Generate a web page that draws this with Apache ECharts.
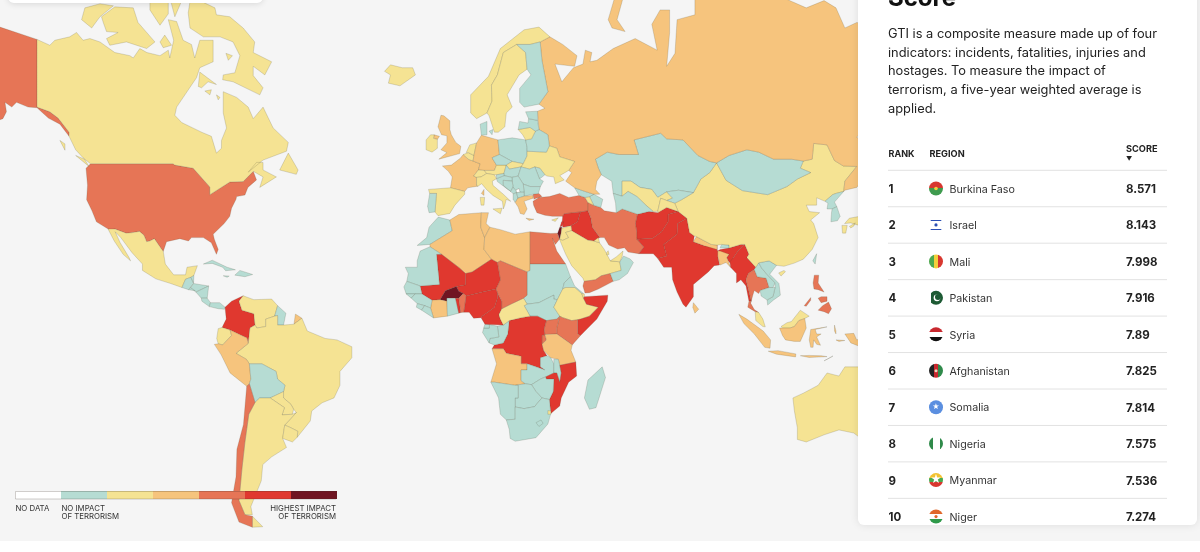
<!DOCTYPE html>
<html>
<head>
<meta charset="utf-8">
<style>
html, body { margin: 0; padding: 0; background: #fff; }
#container { width: 1200px; height: 552px; background: #f5f5f5; }
</style>
<script src="https://cdn.jsdelivr.net/npm/echarts@6/dist/echarts.min.js"></script>
</head>
<body>
<div id="container"></div>
<script>
// impact bands, one list per colour of the legend
var noData = ['Kosovo'];
var noImpact = ['Cuba','Hispaniola','Jamaica','Guatemala','Belize','Honduras','El Salvador','Nicaragua','Costa Rica','Panama','Guyana','Bolivia','Portugal',
  'Morocco','Mauritania','Senegal','Guinea-Bissau','Guinea','Sierra Leone','Liberia','Ghana','Sudan','South Sudan','Eritrea','Gabon','Eq. Guinea','Congo',
  'Zambia','Malawi','Zimbabwe','Botswana','Namibia','South Africa','Lesotho','Madagascar','Finland','Denmark','Poland','Czechia','Hungary','Estonia','Latvia',
  'Belarus','Moldova','Romania','Bulgaria','Serbia','Croatia','Bosnia','Slovenia','Montenegro','Albania','N. Macedonia','Georgia','Azerbaijan',
  'Kazakhstan','Turkmenistan','Kyrgyzstan','Mongolia','North Korea','South Korea','Taiwan','Oman','Bhutan','Laos','Vietnam','Cambodia'];
var lowImpact = ['Canada','Mexico','Venezuela','Ecuador','Paraguay','Uruguay','Argentina','Brazil','Iceland','Norway','Sweden','Ireland','Spain','Belgium',
  'Netherlands','Switzerland','Austria','Italy','Slovakia','Lithuania','Ukraine','Armenia','Uzbekistan','Tajikistan','China','Japan','Jordan','Saudi Arabia',
  'UAE','Qatar','Kuwait','Malaysia','Australia','Ethiopia','Djibouti','Central African Rep.','Eswatini','Cyprus'];
var mediumImpact = ['French Guiana','Peru','United Kingdom','France','Germany','Greece','Russia','Algeria','Tunisia','Libya','Cote d\'Ivoire','Tanzania','Angola',
  'Nepal','Bangladesh','Sri Lanka','Indonesia'];
var highImpact = ['United States','Chile','Turkey','Iran','Egypt','Yemen','Chad','Kenya','Uganda','Rwanda','Benin','Thailand','Philippines'];
var veryHighImpact = ['Colombia','Syria','Iraq','Lebanon','Afghanistan','Pakistan','India','Myanmar','Mali','Niger','Nigeria','Cameroon','Togo','Somalia','DR Congo','Mozambique'];
var highestImpact = ['Burkina Faso','Israel'];

var bandColors = ['#ffffff','#b6dcd3','#f5e393','#f6c47d','#e67556','#e0382f','#701522'];

// table on the right
var ranks = [1,2,3,4,5,6,7,8,9,10];
var regions = ['Burkina Faso','Israel','Mali','Pakistan','Syria','Afghanistan','Somalia','Nigeria','Myanmar','Niger'];
var scores = ['8.571','8.143','7.998','7.916','7.89','7.825','7.814','7.575','7.536','7.274'];
var description = ['GTI is a composite measure made up of four','indicators: incidents, fatalities, injuries and','hostages. To measure the impact of','terrorism, a five-year weighted average is','applied.'];

// rough country outlines, lon,lat pairs
var outlines = {
'United States':[[-124.5,48,-123,49,-95.2,49,-94.6,48.7,-88.4,48,-82.8,43.6,-82.8,41.7,-76.1,44.8,-71.6,44.9,-68.2,47.3,-67.1,45.3,-70,43.5,-71,41.6,-73.8,41.2,-74,40.5,-75.5,38.2,-76.1,36,-78,34,-81.7,31,-81.3,29.5,-80,26.5,-80.6,25,-82.3,28.5,-85,30,-89,30,-90,29,-92.9,29.7,-97.4,28.8,-98.5,25.9,-99,26.5,-101.5,29.7,-103,29,-104.1,28.8,-105,30.7,-106.5,31.8,-109.2,31.4,-111,31.3,-114.8,32.5,-116.5,32.2,-121,34.5,-122.5,37.5,-124.3,40.4,-124,44],
 [-141,69.6,-148,70.4,-153.5,71,-160,71.5,-166,68.5,-162,66.5,-168,65.6,-161,64.5,-165,62,-162,59,-157,58.7,-158,56.5,-164,54.7,-155,57.5,-152.5,58,-151.3,59.2,-151.8,60.8,-149.5,60,-147.9,60.8,-144,60,-141,59.9,-137.2,58.1,-133.3,57,-130.2,54.7,-130.2,55.5,-133.9,58.1,-136.7,59.2,-141,60]],
'Canada':[[-141,69.6,-136.7,68.9,-135,69.5,-130,69.9,-127.7,70.4,-125.5,69.5,-123.2,69.7,-119.8,69.3,-114.8,68,-109.7,67.6,-108.6,67.3,-106.4,68.5,-104,68,-99.6,67.6,-96.8,68.3,-96.3,67.3,-95,69.5,-96.8,71.8,-94,71.6,-91.8,69.5,-89,69,-87.9,67.3,-86.2,69.5,-81.7,69.5,-81.7,66.8,-86.2,66,-87.3,64.6,-94,60,-94.6,58.6,-92.3,57.3,-85.6,55.5,-82.3,54.7,-80.6,51.3,-78.9,52.3,-78.9,53.9,-77.2,56.3,-78.3,59,-78.3,62.5,-73.8,61.6,-69.9,60,-68.2,58,-64.9,60,-61.5,56.3,-56.4,53.5,-57,51.7,-64.9,49.8,-69.9,47.1,-67.1,49.3,-64.9,49.3,-64.9,47.6,-60.4,46,-66,43.5,-64.9,46,-68.2,47.3,-71.6,44.9,-76.1,44.8,-82.8,41.7,-82.8,43.6,-88.4,48,-94.6,48.7,-95.2,49,-123,49,-125.5,50.3,-128,52,-130.2,54.7,-130.2,55.5,-133.9,58.1,-136.7,59.2,-141,60],
 [-90.1,72.5,-89.5,70.9,-85,69.9,-79.4,69.9,-75,69.3,-72.7,67.6,-74.4,65.3,-78.3,65,-78.5,64.3,-75,64,-66,62,-64.9,63.1,-68.2,64.9,-68.2,66.2,-64.3,65,-62,66.8,-68.2,68,-67.7,69.3,-71.6,70.9,-76.1,72.1,-80.6,72.3,-81.1,73,-86.2,73.7,-89,74.5],
 [-119.3,72.1,-114.8,73.1,-108.6,73,-107,71.5,-101.3,69.3,-104.1,68.5,-110.9,69.3,-116.5,68.9,-117.6,69.7,-113.7,70.4,-117.6,70.5,-118.7,71.5],
 [-126,71.8,-124.9,73,-119.8,73.4,-115.3,73.2,-119.8,72.1,-122.6,70.9],
 [-103,72.8,-99.6,71.2,-96.8,72.4,-96.8,74,-103,74],[-96.3,74,-91.8,74,-94.6,72.1],[-99.6,69.3,-98,70.1,-95.7,68.9,-98.5,68.6],
 [-86.7,63.3,-86.2,65.4,-80.6,63.6,-83.4,64,-85.6,63.1],[-84.5,62.6,-82.3,62.8,-82.8,62],[-80.6,62,-79.4,61.6,-80,61.2],[-77.4,67.9,-75.2,67.6,-76.6,67],
 [-133.3,53.9,-131.6,53.2,-131.6,51.9],[-123.5,48.4,-128,50.8,-125,50],[-56.4,51.3,-53.1,47.6,-53.7,46.6,-59.3,47.6]],
'Mexico':[[-117.1,32.5,-114.8,32.5,-111,31.3,-109.2,31.4,-106.5,31.8,-105,30.7,-104.1,28.8,-103,29,-101.5,29.7,-99,26.5,-98.5,25.9,-97.8,22,-95,18.6,-91,18.6,-90.5,21,-87,21.5,-88.2,18.4,-89.2,17.8,-91,17.2,-92.2,14.5,-96,15.8,-101,17.3,-105.5,20,-105.5,22,-109,25.5,-112.8,30,-114.7,31.7,-113,28.5,-110,24,-109.5,23,-112,25,-115,29]],
'Guatemala':[[-92.2,14.5,-91,17.2,-89.2,17.8,-88.3,15.8,-90,13.8]],
'Belize':[[-89.2,17.8,-88.2,18.4,-88.3,16]],
'Honduras':[[-88.3,15.8,-83.2,15,-87.5,13,-89.3,14.4]],
'El Salvador':[[-90,13.8,-89.3,14.4,-87.7,13.4]],
'Nicaragua':[[-87.5,13,-83.2,15,-83.7,11,-85.7,11]],
'Costa Rica':[[-85.7,11,-83.7,11,-82.6,9.5,-83,8.2,-85.5,10]],
'Panama':[[-83,8.2,-82.6,9.5,-79.5,9.5,-77.7,8,-77.9,7.3,-80,7.5]],
'Cuba':[[-85,22,-82,23.2,-77,21,-74.2,20.2,-77.5,19.9,-78.5,21,-82,22.2]],
'Hispaniola':[[-74.4,18.5,-72.7,20,-68.4,18.7,-71,18]],
'Jamaica':[[-78.3,18.3,-76.3,18.2,-77,17.8]],
'Colombia':[[-77.7,8,-75.5,10,-71.6,11.8,-73,10,-72,7,-68,5.8,-67.6,2,-69.3,1,-69.9,-4.2,-70.3,-2.4,-76,0.3,-78.7,1.2,-77.3,4]],
'Venezuela':[[-71.6,11.8,-68,10.5,-62,10.7,-60,8.5,-61,5,-64,4,-64,1.5,-67,1,-67.6,2,-68,5.8,-72,7,-73,10]],
'Guyana':[[-60,8.5,-57.2,6,-58,2,-60,2,-60,5.2,-61,5]],
'French Guiana':[[-54.5,2.3,-54,5.7,-51.8,4.3]],
'Brazil':[[-60,5.2,-60,2,-58,2,-54.5,2.3,-51.8,4.3,-50,0,-44,-2.5,-40,-3,-35,-5.3,-35,-9,-39,-13.5,-39,-18,-41,-22,-45,-23.5,-48.5,-26,-49,-29,-53.4,-33.7,-53.2,-32,-55.5,-31,-57.6,-30.2,-53.7,-26.5,-54.6,-25.5,-55.5,-24,-58,-22,-58,-20,-57.5,-18,-60,-16,-60.5,-13.5,-65.3,-11,-69.5,-11,-70.5,-9.5,-74,-7.5,-69.9,-4.2,-69.3,1,-67.6,2,-67,1,-64,1.5,-64,4,-61,5]],
'Ecuador':[[-80.5,-2.5,-80,0.8,-78.7,1.2,-76,0.3,-75.5,-1.5,-78.5,-4.7,-80,-4.3]],
'Peru':[[-81.3,-4.5,-80,-4.3,-78.5,-4.7,-75.5,-1.5,-76,0.3,-70.3,-2.4,-69.9,-4.2,-74,-7.5,-70.5,-9.5,-69.5,-11,-69,-16,-69.5,-17.5,-70.4,-18.3,-76,-14,-79,-8]],
'Bolivia':[[-69.5,-11,-65.3,-11,-60.5,-13.5,-60,-16,-57.5,-18,-58,-20,-62.5,-22,-66,-22,-67.6,-23.4,-69.5,-17.5,-69,-16]],
'Paraguay':[[-58,-20,-58,-22,-55.5,-24,-54.6,-25.5,-55,-27,-58.5,-27.2,-57.7,-25,-62.5,-22]],
'Argentina':[[-66,-22,-62.5,-22,-57.7,-25,-58.5,-27.2,-55,-27,-53.7,-26.5,-57.6,-30.2,-58.3,-34,-57,-36.5,-62,-39,-65,-41,-65.5,-45,-69,-50.8,-68.5,-52.5,-71,-52.5,-73,-49.5,-72,-42,-71,-35,-69.7,-27,-67.6,-23.4],[-68.5,-52.8,-65,-54.9,-68.5,-55]],
'Chile':[[-70.4,-18.3,-71.5,-30,-73.7,-37,-74,-44,-75.5,-50,-73,-54,-68.5,-55,-68.5,-52.8,-71,-52.5,-73,-49.5,-72,-42,-71,-35,-69.7,-27,-67.6,-23.4,-69.5,-17.5]],
'Uruguay':[[-57.6,-30.2,-55.5,-31,-53.2,-32,-53.4,-33.7,-55,-35,-58.3,-34]],
'Morocco':[[-5.9,35.8,-2,35,-1.2,32,-5,30,-8.7,28,-13,27.7,-9.8,30,-9,33]],
'Algeria':[[-2,35,1,36.5,8.6,37,8.4,33,9.7,30,9.5,26.5,12,23.5,5.5,19.5,3.3,19,1.2,20.8,-4.8,25,-8.7,27.3,-8.7,28,-5,30,-1.2,32]],
'Tunisia':[[8.6,37,11,37,10.2,34,11.5,33,9.7,30,8.4,33]],
'Libya':[[11.5,33,15,32.3,20,31,25,31.7,25,20,24,19.5,15,23,14,22.5,12,23.5,9.5,26.5,9.7,30]],
'Egypt':[[25,31.7,32,31.2,34.2,31.3,34.9,29.5,33.5,28,32.5,29.9,34,26,37,22,25,22]],
'Sudan':[[25,22,37,22,38.6,18,36.5,16,36,14,34.2,10.5,33,10.7,33,12,28,9.5,24,9,22.8,11,24,12,24,19.5,25,20]],
'South Sudan':[[24,9,28,9.5,33,12,33,10.7,34.2,10.5,33,8,35,5,34,4,30.5,3.5,27.5,5,25,5,23,8.5]],
'Eritrea':[[38.6,18,40,15,43,12.5,42.4,12.5,40,14.5,37,14.5,36,14,36.5,16]],
'Ethiopia':[[36,14,37,14.5,40,14.5,42.4,12.5,43,11,44,9,48,8,45,5,42,4,41,3.8,39,3.5,36,4.5,35,5,33,8,34.2,10.5]],
'Djibouti':[[42.4,12.5,43.3,12.4,43.3,11.5,43,11]],
'Somalia':[[43.3,11.5,51.2,12,51,10,47.5,4,42,-1.5,41,-1,41,3.8,42,4,45,5,48,8,44,9,43,11]],
'Kenya':[[35,5,36,4.5,39,3.5,41,3.8,41,-1,42,-1.5,39.2,-4.7,34,-1,34,1]],
'Uganda':[[30.5,3.5,34,4,35,5,34,1,34,-1,30,-1.2,29.7,0.5]],
'Rwanda':[[30,-1.2,30.5,-3,29,-4.5,29,-1.5]],
'Tanzania':[[30,-1.2,34,-1,39.2,-4.7,38.8,-6.5,40.4,-10.4,35,-11.5,34.5,-9.5,32,-9,29.5,-6.5,29,-4.5,30.5,-3]],
'DR Congo':[[12.2,-6,13,-4.7,16,-4,17.5,-1,18,3.5,22,4.5,25,5,27.5,5,30.5,3.5,29.7,0.5,30,-1.2,29,-1.5,29,-4.5,29.5,-6.5,30.7,-8.3,28.5,-9,28.5,-12,30,-13,27,-12,24,-11,22,-11,22,-8.5,17,-7.5,16,-6]],
'Congo':[[11.2,-4,13,-4.7,16,-4,17.5,-1,18,3.5,16,2,14,1.6,14.5,-2,11.5,-2.5]],
'Gabon':[[9,-0.5,9.4,1,11.3,1,11.3,2.2,14,1.6,14.5,-2,11.5,-2.5,11.2,-4]],
'Eq. Guinea':[[9.4,1,9.8,2.3,11.3,2.2,11.3,1]],
'Cameroon':[[8.5,4.5,9.8,2.3,11.3,2.2,16,2,15,4,14.5,5.5,15.5,7.5,15.5,10,14,12.8,14,11,13,8,11,6.5,8.8,5]],
'Central African Rep.':[[14.5,5.5,15,4,16,2,18,3.5,22,4.5,25,5,23,8.5,24,9,22.8,11,18.5,9,15.5,7.5]],
'Chad':[[14,12.8,15.5,10,15.5,7.5,18.5,9,22.8,11,24,12,24,19.5,15,23,14,22.5,15,17,13.5,14]],
'Niger':[[3.3,19,5.5,19.5,12,23.5,14,22.5,15,17,13.5,14,9,13,3.5,11.7,2.5,12.5,1,13.3,0.2,14.8,3.3,15.4]],
'Mali':[[-12,15,-5.5,15.5,-6.5,25,-4.8,25,1.2,20.8,3.3,19,3.3,15.4,0.2,14.8,-3.5,13.4,-5.3,10.5,-8,10.3,-11.4,12.4]],
'Burkina Faso':[[-5.3,10.5,-3.5,13.4,0.2,14.8,1,13.3,2.5,12.5,1,11,-0.1,11,-3,11,-3,10]],
'Cote d\'Ivoire':[[-8.5,7.7,-8,10.3,-5.3,10.5,-3,10,-3,11,-2.8,5,-7.5,4.4]],
'Ghana':[[-3,11,-0.1,11,1,6,-2.8,5]],
'Togo':[[-0.1,11,1,11,1.7,6.2,1,6]],
'Benin':[[1,11,2.5,12.5,3.5,11.7,2.7,6.3,1.7,6.2]],
'Nigeria':[[2.7,6.3,3.5,11.7,9,13,13.5,14,14,12.8,14,11,13,8,11,6.5,8.8,5,8.5,4.5,6,4.3,4.5,6.3]],
'Mauritania':[[-17,21,-13,21,-13,23,-12,26,-8.7,27.3,-4.8,25,-6.5,25,-5.5,15.5,-12,15,-16.5,16.5,-16,19]],
'Senegal':[[-17.5,14.7,-16.5,16.5,-12,15,-11.4,12.4,-16.7,12.4]],
'Guinea-Bissau':[[-16.7,12.4,-13.7,12.4,-15,11]],
'Guinea':[[-13.7,12.4,-11.4,12.4,-8,10.3,-8.5,7.7,-10.5,8.5,-13,9.2,-15,11]],
'Sierra Leone':[[-13,9.2,-10.5,8.5,-11.5,7,-13.3,8]],
'Liberia':[[-11.5,7,-10.5,8.5,-8.5,7.7,-7.5,4.4]],
'Angola':[[12.2,-6,16,-6,17,-7.5,22,-8.5,22,-11,24,-11,24,-13,22,-13,22,-16.5,23.4,-17.5,20,-18,13,-17,11.8,-17,13.7,-11]],
'Zambia':[[22,-13,24,-13,24,-11,27,-12,30,-13,28.5,-12,28.5,-9,30.7,-8.3,32,-9,33,-11,33,-14,30.2,-15.3,28.5,-16,25.5,-17.8,23.4,-17.5,22,-16.5]],
'Malawi':[[33,-9.5,34.5,-9.5,35,-11.5,35.5,-14,35,-17,34,-14,33,-14,33,-11]],
'Mozambique':[[40.4,-10.4,35,-11.5,35.5,-14,35,-17,34,-14,33,-14,30.2,-15.3,30.5,-16,33,-16,32.8,-20,31.5,-22.5,32,-26.8,35,-24.5,35.5,-22,38,-17,40.7,-15]],
'Zimbabwe':[[25.5,-17.8,28.5,-16,30.2,-15.3,30.5,-16,33,-16,32.8,-20,31.5,-22.5,29,-22,27,-20]],
'Botswana':[[20,-18,23.4,-17.5,25.5,-17.8,27,-20,29,-22,26.5,-24.7,23,-25.3,20,-24.8,20,-22,21,-22,21,-18]],
'Namibia':[[11.8,-17,13,-17,20,-18,21,-18,21,-22,20,-22,20,-28.5,17,-28.7,15,-27,14.4,-22]],
'South Africa':[[17,-28.7,20,-28.5,20,-24.8,23,-25.3,26.5,-24.7,29,-22,31.5,-22.5,32,-26.8,31,-29.9,27,-33.8,20,-34.8,18.3,-34,18,-31.5]],
'Lesotho':[[27,-29.5,28.7,-28.7,29.4,-29.7,28,-30.6]],
'Eswatini':[[31,-25.9,32,-26,32,-27,31,-27]],
'Madagascar':[[49.3,-12,50.4,-15.5,47.2,-25,45,-25.5,43.3,-22,44.5,-16.3]],
'Turkey':[[26,40,28,41,31.5,41.2,35,42,38,41,41.5,41.5,43.5,41,44.5,39.7,44.5,37.5,42,37.2,36.5,36.7,36,36,32.5,36,30,36.3,27.3,37,26.2,39],[26.3,40.5,26,41.8,28,42,29,41.2,27,40.8]],
'Syria':[[36,36,36.5,36.7,42,37.2,41,34.5,38.8,33.4,36,33,35.8,34.6]],
'Iraq':[[42,37.2,44.5,37.5,45.5,35.5,46,33,48.5,30,46.5,29,44.5,29.2,39,32,38.8,33.4,41,34.5]],
'Lebanon':[[35.1,33.1,35.6,34.5,36.4,34.5,35.8,33.3]],
'Israel':[[34.3,31.3,35,33,35.7,33,35.5,31.5,35,29.5]],
'Jordan':[[35,29.5,35.5,31.5,35.7,32.7,38.8,33.4,39,32,37,31.5,38,30,36,29.2]],
'Saudi Arabia':[[34.9,29.5,36,29.2,38,30,37,31.5,39,32,44.5,29.2,46.5,29,48.4,28.5,50,26.5,51,24.8,52,23,55.2,22.7,55.7,20,52,19,49,18.3,47,17,43.2,16.5,42.8,17.5,39,21.5,37,25]],
'Yemen':[[43.2,16.5,47,17,49,18.3,52,19,53,16.5,48,14,45,12.8,43.5,12.7,42.8,15]],
'Oman':[[52,19,55.7,20,55.2,22.7,56.5,24.5,58.7,23.6,59.8,22.5,57.8,19,55,17,53,16.5]],
'UAE':[[52,23,55.2,22.7,56,24.3,56.3,26,54,24.2]],
'Qatar':[[50.8,24.8,51.6,25,51.3,26.1,50.8,25.6]],
'Kuwait':[[46.5,29,48.4,28.5,48,30]],
'Iran':[[44.5,39.7,44.5,37.5,45.5,35.5,46,33,48.5,30,50,30,51.5,27.8,54.5,26.6,56.8,27,58,25.7,61.6,25.2,63.3,27.2,61,29.5,61,31.5,60.5,34,61.2,36.6,56,38,54,37,50,37.5,48.8,38.4,46.4,39]],
'Azerbaijan':[[46.4,39,45,41.2,46.5,41.8,49.5,40.5,48.8,38.4]],
'Armenia':[[43.5,41,45,41.2,46.4,39,44.5,39.7]],
'Georgia':[[40,43.4,43.5,42.5,46.5,41.8,45,41.2,43.5,41,41.5,41.5]],
'Afghanistan':[[61,29.5,66.3,29.8,69.3,31.7,71.5,34.5,71.5,36.5,74.9,37.3,71,38.4,68,37,65,37.3,61.2,36.6,60.5,34,61,31.5]],
'Pakistan':[[61.6,25.2,66.5,25.2,68,23.7,71,24.5,70,28,74.5,31,74.7,34,77.8,35.5,74.9,37.3,71.5,36.5,71.5,34.5,69.3,31.7,66.3,29.8,61,29.5,63.3,27.2]],
'India':[[68,23.7,70,21,72.7,21,73,17,74.5,13,76.5,9,77.5,8,80,11.5,80,15.5,85,19.5,87,21.5,88.8,21.7,88.2,24.5,89.8,25,92,25,91.2,24,91.7,23,92.5,22.2,93.5,24,95,26,97.3,28,96,28,92,26.9,89,26.5,88.2,26,88,26.5,88,27.8,84,27.5,80,28.8,80.3,30.5,78.7,31.5,77.8,35.5,74.7,34,74.5,31,70,28,71,24.5]],
'Nepal':[[80,28.8,84,27.5,88,26.5,88,27.8,86,28,81,30.3]],
'Bhutan':[[89,27,92,26.9,92,27.8,89.5,28]],
'Bangladesh':[[88.2,26,89,26,92,25,91.2,24,91.7,23,92.5,21,91,22.5,89,21.7,88.8,21.7,88.2,24.5]],
'Sri Lanka':[[80,9.5,81.8,7.3,80.5,6,79.8,8]],
'Myanmar':[[92.5,21,92.3,22.7,93.5,24,95,26,97.3,28,98.7,25,98,24,100,22,101,21,100.5,20.3,98.5,19,97.7,17,98.5,14,99.5,10,98.7,10,97.7,15,96,17,94.5,16,94.5,19]],
'Thailand':[[100.5,20.3,101.5,18,104.5,17.5,105.5,14.5,102.5,13.5,102,12.5,100.5,13.5,100,12,99.3,9.3,100.5,7.2,102,6.2,100.8,6.5,98.3,8,98.7,10,99.5,10,98.5,14,97.7,17,98.5,19]],
'Laos':[[100.5,20.3,101,21,102,22.4,103,20.7,105,18.5,107.5,16,106.8,14.5,105.5,14.5,104.5,17.5,101.5,18]],
'Vietnam':[[102,22.4,105.5,23,108,21.6,105.7,18.8,108.8,15.8,109.3,12,107,10.4,105,8.7,104.8,10.4,106.8,11.5,107.5,14.5,107.5,16,105,18.5,103,20.7]],
'Cambodia':[[102.5,13.5,105.5,14.5,106.8,14.5,107.5,14.5,106.8,11.5,104.8,10.4,102.8,11.7]],
'Malaysia':[[100.8,6.5,102,6.2,103.4,4,104.2,1.4,103.4,1.5,101,3.5],[109.5,1.5,111.5,2.8,113,3.2,116,7,119,5,117.5,4.2,115.5,3.5,114,1.5,112.5,1,110,1]],
'Indonesia':[[109,1,110,1,112.5,1,114,1.5,115.5,3.5,117.5,4.2,118,1,116,-3.5,114,-3.5,111,-3,110,-1.5],[95.3,5.6,98,4,103.5,0,106,-3,105.8,-5.8,104,-5.5,100.5,-1,97,2.5],[105.2,-6.8,108.5,-6.6,114.5,-7.7,114.4,-8.7,108,-7.8],
 [119.5,0.5,125,1.4,121,0.5,121.5,-1,123,-1,121.5,-2,122.8,-4.8,121.5,-4.5,120.5,-3,120.3,-5.5,119.5,-5.5,119,-3],[116,-8.3,119,-8.2,123,-8.3,125,-8.6,119,-8.9],[124,-10,127,-8.4,125,-9.5],[127.5,2,128,0,128,-1,127.5,0],[128,-3,131,-3.2,129,-3.5],[131,-1,134,-0.8,135,-3,138,-1.7,141,-2.6,141,-9,138,-8,138,-6,133,-4,132,-2.5]],
'Philippines':[[120.3,16,120.7,18.5,122.2,18.5,122,16,124,13,122,13.8,120.6,14],[122,7,123.5,8.5,125.5,9.7,126.5,7.5,125.5,5.8,124,6.5],[122,11,123,11.5,125,11.5,125,10,123,9.5],[117.3,8.5,119.5,11.2,119.5,10.3,118,8.3]],
'Taiwan':[[120.2,23,121.5,25.2,121,22]],
'China':[[74.9,37.3,77.8,35.5,78.7,31.5,80.3,30.5,81,30.3,86,28,88,27.8,89.5,28,92,27.8,92,26.9,96,28,97.3,28,98.7,25,98,24,100,22,101,21,102,22.4,105.5,23,108,21.6,110.5,21.3,114,22.3,117,23.5,120,26.5,122,30,120.5,34,119.5,35,122.5,37,119,37.3,118,39,121.5,39,121.5,40.9,124.3,40,126.9,41.7,128,42,130.6,42.5,131,45,135,48.4,130.5,48.5,127.5,49.7,125,53,120.5,53.3,120,50,117,49.6,116,48,119.5,47,115,45.5,111.5,43.7,105,41.7,96.5,42.7,91,45.2,87.8,49.2,85.5,47,82.5,45.5,80,42.2,76,40.4,73.7,39.5],[108.7,19.2,110.5,20,111,19.6,109.5,18.2]],
'Mongolia':[[87.8,49.2,91,45.2,96.5,42.7,105,41.7,111.5,43.7,115,45.5,119.5,47,116,48,117,49.6,113,50,107,50,102,51.5,98,52,92,50.8]],
'North Korea':[[124.3,40,126.9,41.7,128,42,130.6,42.5,127.5,39.8,128.3,38.6,126.7,38,125,38,125.3,39.5]],
'South Korea':[[126.7,38,128.3,38.6,129.4,36,128.5,34.8,126.3,34.5,126.5,37]],
'Japan':[[130.9,34,132.5,35.5,136,36,139,38,140,41,141.5,41,142,39.5,140.8,36,139,35,136.8,34.6,135.7,33.5,133,34.2],[130,33.5,131.8,33.5,131.3,31.3,130.2,31.3],[132.5,33.2,134.5,34.2,134,33.3,133,32.8]],
'Kazakhstan':[[47,50,51,51.5,55,51,61.5,51,60,54,69,55.3,71,54.2,76.5,54,81.5,50.8,85.5,49.5,87.8,49.2,85.5,47,82.5,45.5,80,42.2,75,42.8,71,42.4,68,41,66,43,62,43.5,59,45,56,45,56,41.3,53,42,52.5,45,49,46.5,48,48]],
'Uzbekistan':[[56,45,59,45,62,43.5,66,43,68,41,71,42.4,73,40.8,71,40.2,69,40.8,68,37.4,66.5,37.3,64,39,61,41.2,58,42.5,56,41.3]],
'Turkmenistan':[[53,42,56,41.3,58,42.5,61,41.2,64,39,66.5,37.3,65,37.3,61.2,36.6,56,38,54,37,53.8,39.5]],
'Kyrgyzstan':[[71,42.4,75,42.8,80,42.2,76,40.4,73.7,39.5,71,40.2,73,40.8]],
'Tajikistan':[[68,37.4,69,40.8,71,40.2,73.7,39.5,74.9,37.3,71,38.4,68,37]],
'Russia':[[28.4,69.3,31.7,69.9,36,69,40.8,67.6,40,66.2,33.4,66.5,35.7,64,39.6,66,42.8,66.5,43.6,68.3,45.8,68,45.2,66.8,47.5,67,53,68.5,60.4,69.7,67.8,68.3,66,71.3,68.8,72.8,72,72.8,72,70.4,71,66.2,73.8,67.9,74.5,71.8,80.5,72.3,80.5,74,90,76,104,78,110,74,118,73,124,73.7,128,73,131,70.9,135,71.5,160,70,180,69,180,65,177,62.5,170,60,163,58,162,55,157,51,156,57,163,62,155,59,142,59,135,54.5,141,53,140,48,135,43.5,131,42.8,130.6,42.5,131,45,135,48.4,130.5,48.5,127.5,49.7,125,53,120.5,53.3,120,50,117,49.6,113,50,107,50,102,51.5,98,52,92,50.8,87.8,49.2,85.5,49.5,81.5,50.8,76.5,54,71,54.2,69,55.3,60,54,61.5,51,55,51,51,51.5,47,50,48,48,49,46.5,47.5,45,47,43,48.5,41.8,46.5,41.8,43.5,42.5,40,43.4,37,45,39,47,38,47.5,40,49.5,35,50.5,34,52.3,31.5,52.8,31,55,28,56,27.5,59.3,30,59.8,28,60.5,31,62.5,29,67],[54.6,75,51.3,71.8,52.6,70.9,57,70.5,54.3,71.8,57.4,75]],
'Norway':[[5,62,5,59,7,58,10.5,59,12.2,61,12,63.5,14,65,16,68,20.5,69,25,69,28.4,69.3,31.7,69.9,28,71,23,70.7,15,68.5,11,64.8]],
'Sweden':[[10.5,59,11.2,58.5,13,55.5,14.3,55.5,16.5,56.5,17,59,19,60,17.3,62,21.3,65,24,65.8,23.5,68,20.5,69,16,68,14,65,12,63.5,12.2,61]],
'Finland':[[24,65.8,25.3,65,21.5,63,21.5,60.8,23,60,28,60.5,31,62.5,29,67,28.4,69.3,25,69,20.5,69,23.5,68]],
'Denmark':[[8.2,57,10.5,57.5,10.5,55,8.6,54.9],[11.2,55.7,12.5,56,12.2,55]],
'United Kingdom':[[-5.7,50,1.3,51.2,1.7,52.7,0,53.5,-1.5,55,-2,56,-2,57.6,-4,58.5,-5,58.6,-6,56.5,-4.8,55,-3,54.8,-3,53.4,-5,52,-3,51.4],[-7.3,55,-5.5,54.7,-6.2,54.1,-7.5,54.3]],
'Ireland':[[-10,52,-8,51.5,-6.2,52.3,-6.2,54.1,-7.5,54.3,-7.3,55,-8.5,55,-10,54]],
'France':[[-4.5,48.5,-1.5,48.7,1.5,50.2,2.5,51,4.2,50,5.8,49.6,8.2,49,7.6,47.6,6,46.2,7,45.9,7,44,7.5,43.8,4,43.4,3,42.5,-1.8,43.4,-1.2,46,-2.5,47.3],[8.6,42,9.5,43,9.5,41.5]],
'Belgium':[[2.5,51,4.2,51.4,6.1,50.8,5.8,49.6,4.2,50]],
'Netherlands':[[3.5,51.4,4.7,53,7,53.4,6.1,50.8,4.2,51.4]],
'Germany':[[6.1,50.8,7,53.4,8.6,54.9,10.5,54.6,14.2,54,14.7,51,12.2,50.3,13.7,48.7,13,47.5,9.6,47.5,7.6,47.6,8.2,49,5.8,49.6]],
'Switzerland':[[6,46.2,7.6,47.6,9.6,47.5,10.4,46.8,8.5,46,7,45.9]],
'Austria':[[9.6,47.5,13,47.5,13.7,48.7,17,48.7,16.2,46.8,13.7,46.5,13,46.5,10.4,46.8]],
'Italy':[[7,44,7,45.9,8.5,46,10.4,46.8,13,46.5,13.7,45.6,12.3,45,12.5,44,16,41.8,18.5,40,17,40.5,16.5,39,16,38,15.7,40,12.5,41.5,10.3,43,8.7,44.4,7.5,43.8],[12.5,38,15.6,38.2,15,36.7],[8.2,41,9.7,41,9.5,39,8.5,39]],
'Spain':[[-9.2,43,-8.8,42,-6.5,42,-7,37.2,-6,36.2,-2,36.8,-0.3,39,3,41.8,3,42.5,-1.8,43.4]],
'Portugal':[[-8.8,42,-6.5,42,-7,37.2,-9,37,-9.5,38.7]],
'Poland':[[14.2,54,19,54.4,23.5,54,24,52.5,24,51.7,24,50.7,22.7,49,19,49.5,14.7,51]],
'Czechia':[[12.2,50.3,14.7,51,19,49.5,17,48.7,13.7,48.7]],
'Slovakia':[[17,48.7,19,49.5,22.7,49,22,48.3,18,47.8]],
'Hungary':[[16.2,46.8,17,48.7,18,47.8,22,48.3,21,46.2,18.9,45.9,16.2,46.3]],
'Ukraine':[[24,50.7,24,51.7,30.5,51.5,31.5,52.8,34,52.3,35,50.5,40,49.5,38,47.5,35,46.3,36.5,45.3,33.5,44.4,33,46,30.7,46.2,30,46.5,28.3,48,26.6,48.3,24.8,47.8,22,48.3,22.7,49]],
'Belarus':[[24,51.7,24,52.5,23.5,54,25.5,54.2,26.8,55.7,28,56,31,55,31.5,52.8,30.5,51.5]],
'Lithuania':[[21,56,25,56.4,26.8,55.7,25.5,54.2,23.5,54,22.5,55]],
'Latvia':[[21,56,21.5,57.5,24.3,57.2,24.5,58,27.5,57.7,28,56,26.8,55.7,25,56.4]],
'Estonia':[[24.5,58,23.5,59.2,27.5,59.3,27.5,57.7]],
'Moldova':[[26.6,48.3,28.3,48,30,46.5,28.2,45.5]],
'Romania':[[21,46.2,22,48.3,24.8,47.8,26.6,48.3,28.2,45.5,29.5,45,28.5,43.7,25,43.7,22.7,44.3]],
'Bulgaria':[[22.7,44.3,25,43.7,28.5,43.7,27.8,42,26,41.8,23,41.3,23,42.3]],
'Serbia':[[18.9,45.9,21,46.2,22.7,44.3,23,42.3,21.6,42.3,21.3,43.2,20.2,42.8,19.2,43.5,19.2,44,19,45]],
'Kosovo':[[20.2,42.8,21.3,43.2,21.6,42.3,20.5,42.2]],
'Croatia':[[13.7,45.6,16.2,46.3,18.9,45.9,19,45,16,45.2,16,44,18.5,42.5,17.5,43,14,44.9]],
'Bosnia':[[16,45.2,19,45,19.2,44,19.2,43.5,18.5,42.5,16,44]],
'Slovenia':[[13.7,45.6,13.7,46.5,16.2,46.8,16.2,46.3]],
'Montenegro':[[18.5,42.5,19.2,43.5,20.2,42.8,20.5,42.2,19.3,41.9]],
'Albania':[[19.3,41.9,20.5,42.2,20.9,40.8,20,39.7,19.3,40.5]],
'N. Macedonia':[[20.5,42.2,21.6,42.3,23,42.3,23,41.3,20.9,40.8]],
'Greece':[[20,39.7,20.9,40.8,23,41.3,26,41.5,26,40.8,23,40,24,38,23,36.5,21.7,36.8,21,38.5],[23.6,35.5,26.3,35.2,24.7,34.9]],
'Cyprus':[[32.3,35,34.5,35.6,33.5,34.6]],
'Iceland':[[-24,65.5,-22,66.4,-18,66,-14.5,66,-13.6,65,-18.8,63.4,-22.7,63.8,-22,65]],
'Australia':[[113.5,-22,114,-26,115,-31,115,-34.3,118,-35,124,-33,129,-31.6,134,-32.5,138,-35,140,-38,146,-39,150,-37.5,153,-31,153,-25,146,-19,142.5,-11,141.5,-16,136,-15,136.5,-12,131,-12,129,-15,125,-14,122,-18,117,-20.5]]
};

var bands = [noData, noImpact, lowImpact, mediumImpact, highImpact, veryHighImpact, highestImpact];

var features = [];
for (var name in outlines) {
    var rings = outlines[name].map(function (flat) {
        var ring = [];
        for (var i = 0; i < flat.length; i += 2) ring.push([flat[i], flat[i + 1]]);
        ring.push(ring[0]);
        return [ring];
    });
    features.push({type: 'Feature', properties: {name: name}, geometry: {type: 'MultiPolygon', coordinates: rings}});
}
echarts.registerMap('world', {type: 'FeatureCollection', features: features});

var mapData = [];
bands.forEach(function (list, band) {
    list.forEach(function (n) { mapData.push({name: n, value: band}); });
});

// mercator, sized so the view runs from 0,0 to 1200,552
var project = function (p) {
    return [455.8 + 2.97 * p[0], 331 - 170 * Math.log(Math.tan(Math.PI / 4 + p[1] * Math.PI / 360))];
};
var unproject = function (p) {
    return [(p[0] - 455.8) / 2.97, (2 * Math.atan(Math.exp((331 - p[1]) / 170)) - Math.PI / 2) * 180 / Math.PI];
};

var FONT = 'Inter, "Noto Sans", sans-serif';
var graphics = [];
function txt(x, y, s, size, weight, color, extra) {
    var o = {type: 'text', x: x, y: y, z: 110, silent: true, style: {text: String(s), fontFamily: FONT, fontSize: size, fontWeight: weight, fill: color, textVerticalAlign: 'middle', textBaseline: 'middle'}};
    for (var k in extra) o.style[k] = extra[k];
    graphics.push(o);
}
function bars(horizontal, colors) {
    // hard-edged gradient makes a striped round flag
    var stops = [];
    colors.forEach(function (c, i) {
        stops.push({offset: i / colors.length, color: c});
        stops.push({offset: (i + 1) / colors.length, color: c});
    });
    return {type: 'linear', x: 0, y: 0, x2: horizontal ? 0 : 1, y2: horizontal ? 1 : 0, colorStops: stops};
}
function dot(cx, cy, r, fill) {
    graphics.push({type: 'circle', z: 111, silent: true, shape: {cx: cx, cy: cy, r: r}, style: {fill: fill}});
}
var flagFills = [
    bars(true, ['#d8372f', '#3f9b4f']),
    bars(true, ['#fff', '#2b4fb3', '#fff', '#fff', '#fff', '#fff', '#fff', '#2b4fb3', '#fff']),
    bars(false, ['#4fa84f', '#f4cf3c', '#d8372f']),
    bars(false, ['#fff', '#1d5a34', '#1d5a34', '#1d5a34', '#1d5a34', '#1d5a34']),
    bars(true, ['#c8282e', '#fff', '#111']),
    bars(false, ['#222', '#c8282e', '#2f8a4a']),
    '#5b8fe0',
    bars(false, ['#2f8a4a', '#fff', '#fff', '#2f8a4a']),
    bars(true, ['#f2c230', '#4aa84f', '#d8372f']),
    bars(true, ['#e0672a', '#fff', '#2f9a4a'])
];
var flagMarks = [['#f4cf3c', 1.8], ['#2b4fb3', 1.6], null, null, null, ['#e8d9c0', 1.5], null, null, null, ['#e0672a', 1.6]];
var flagStars = [null, null, null, null, null, null, 7, null, 11, null];

// cards
graphics.push({type: 'rect', z: 100, silent: true, shape: {x: 8, y: -20, width: 255, height: 23, r: 6}, style: {fill: '#fff', shadowBlur: 6, shadowColor: 'rgba(0,0,0,0.12)', shadowOffsetY: 1}});
graphics.push({type: 'rect', z: 100, silent: true, shape: {x: 858, y: -20, width: 339, height: 545, r: 6}, style: {fill: '#fff', shadowBlur: 8, shadowColor: 'rgba(0,0,0,0.1)'}});
graphics.push({type: 'rect', z: 99, silent: true, shape: {x: 0, y: 541, width: 1200, height: 11}, style: {fill: '#fff'}});

txt(888, -1, 'Score', 24, 700, '#111');
description.forEach(function (line, i) { txt(888, 34 + i * 18.7, line, 12.85, 400, '#222'); });
txt(888.5, 154, 'RANK', 9, 700, '#222');
txt(929.5, 154, 'REGION', 9.2, 700, '#222');
txt(1126, 149.5, 'SCORE', 9.2, 700, '#222');
txt(1126, 159.5, '\u25BC', 6, 700, '#222');

ranks.forEach(function (rank, i) {
    var y = 188.5 + i * 36.45;
    graphics.push({type: 'line', z: 105, silent: true, shape: {x1: 888, y1: y - 18.2, x2: 1167, y2: y - 18.2}, style: {stroke: '#e2e2e2', lineWidth: 1}});
    txt(888.5, y + 1, rank, 11.5, 700, '#222');
    graphics.push({type: 'circle', z: 110, silent: true, shape: {cx: 936, cy: y, r: 7}, style: {fill: flagFills[i]}});
    if (flagMarks[i]) dot(936, y, flagMarks[i][1], flagMarks[i][0]);
    if (flagStars[i]) txt(936, y, '\u2605', flagStars[i], 400, '#fff', {textAlign: 'center'});
    if (i === 3) { dot(937, y, 3.4, '#fff'); dot(938, y - 0.8, 3, '#1d5a34'); }
    txt(949.5, y + 1, regions[i], 10.7, 400, '#333');
    txt(1126, y + 1, scores[i], 11.5, 700, '#222');
});

// legend words and outline
txt(15.5, 509, 'NO DATA', 7.8, 400, '#333');
txt(61.5, 509, 'NO IMPACT', 7.8, 400, '#333');
txt(61.5, 517, 'OF TERRORISM', 7.8, 400, '#333');
txt(336, 509, 'HIGHEST IMPACT', 7.8, 400, '#333', {textAlign: 'right'});
txt(336, 517, 'OF TERRORISM', 7.8, 400, '#333', {textAlign: 'right'});
graphics.push({type: 'rect', z: 110, silent: true, shape: {x: 15.5, y: 491.5, width: 320.5, height: 7.5}, style: {fill: 'none', stroke: 'rgba(60,50,40,0.35)', lineWidth: 0.7}});

var myChart = echarts.init(document.getElementById('container'), null, {renderer: 'canvas'});
var option = {
    animation: false,
    backgroundColor: 'transparent',
    visualMap: {
        type: 'piecewise',
        orient: 'horizontal',
        left: 15,
        top: 491,
        padding: 0,
        itemWidth: 46,
        itemHeight: 8,
        itemGap: 0,
        itemSymbol: 'rect',
        showLabel: false,
        selectedMode: false,
        seriesIndex: 0,
        pieces: bandColors.map(function (c, i) { return {value: i, color: c}; })
    },
    series: [{
        type: 'map',
        map: 'world',
        projection: {project: project, unproject: unproject},
        boundingCoords: [unproject([0, 0]), unproject([1200, 552])],
        left: 0,
        top: 0,
        width: 1200,
        height: 552,
        roam: false,
        silent: true,
        label: {show: false},
        emphasis: {disabled: true},
        itemStyle: {borderColor: 'rgba(70,70,50,0.3)', borderWidth: 0.6},
        data: mapData
    }],
    graphic: {elements: graphics}
};
myChart.setOption(option);
</script>
</body>
</html>
